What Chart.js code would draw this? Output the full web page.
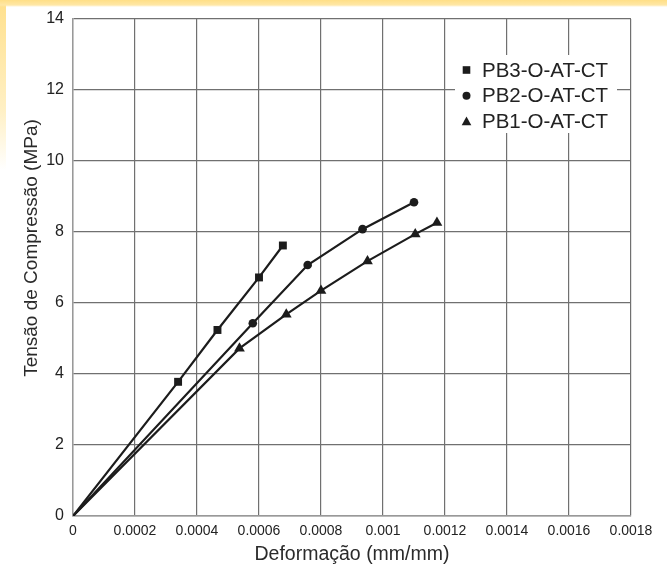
<!DOCTYPE html>
<html>
<head>
<meta charset="utf-8">
<script src="https://cdn.jsdelivr.net/npm/chart.js@4.4.1/dist/chart.umd.min.js"></script>
<style>
    html, body { margin: 0; padding: 0; background: #fff; }
    #wrap {
        position: relative; width: 667px; height: 570px; overflow: hidden;
        background:
            linear-gradient(to bottom, #ffdf86 0px, #ffe7a6 5px, rgba(255,255,255,0) 7px),
            linear-gradient(to bottom, #ffe08c 0px, #fff0c4 110px, #ffffff 170px) left top / 6px 570px no-repeat,
            #fff;
    }
    canvas { position: absolute; left: 0; top: 0; }
</style>
</head>
<body>
<div id="wrap"><canvas id="chart" width="667" height="570"></canvas></div>
<script>
document.addEventListener("DOMContentLoaded", () => {

    // values
    const seriesNames = ["PB3-O-AT-CT", "PB2-O-AT-CT", "PB1-O-AT-CT"];
    const pb3Strain = [0, 0.000339, 0.000466, 0.0006, 0.000677];
    const pb3Stress = [0, 3.78, 5.24, 6.72, 7.62];
    const pb2Strain = [0, 0.00058, 0.000757, 0.000934, 0.0011];
    const pb2Stress = [0, 5.43, 7.07, 8.08, 8.84];
    const pb1Strain = [0, 0.000537, 0.000688, 0.0008, 0.00095, 0.001104, 0.001174];
    const pb1Stress = [0, 4.72, 5.68, 6.35, 7.18, 7.94, 8.26];
    const xTicks = [0, 0.0002, 0.0004, 0.0006, 0.0008, 0.001, 0.0012, 0.0014, 0.0016, 0.0018];
    const yTicks = [0, 2, 4, 6, 8, 10, 12, 14];

    const FONT = "'Liberation Sans', Arial, Helvetica, sans-serif";
    const INK = "#1c1c1c";
    const GRID = "#707070";

    const toPoints = (xs, ys) => xs.map((x, i) => ({ x: x, y: ys[i] }));

    const makeSet = (label, xs, ys, style, r) => ({
        label: label,
        data: toPoints(xs, ys),
        showLine: true,
        tension: 0,
        borderColor: INK,
        borderWidth: 2.2,
        backgroundColor: INK,
        pointStyle: style,
        pointRadius: c => c.dataIndex === 0 ? 0 : r,
        pointBorderWidth: 0,
        pointHoverRadius: r
    });

    // legend sits inside the plot, top right, on a white patch
    const innerLegend = {
        id: "innerLegend",
        beforeDatasetsDraw(chart) {
            const ctx = chart.ctx;
            const area = chart.chartArea;
            const boxLeft = area.right - 176;
            const boxTop = area.top + 36;
            ctx.save();
            ctx.fillStyle = "#fff";
            ctx.fillRect(boxLeft, boxTop, 162, 78);
            ctx.font = "20.5px " + FONT;
            ctx.textBaseline = "middle";
            ctx.textAlign = "left";
            chart.data.datasets.forEach((ds, i) => {
                const cy = boxTop + 15 + i * 25.8;
                const mx = boxLeft + 11.5;
                ctx.fillStyle = INK;
                ctx.beginPath();
                if (ds.pointStyle === "rect") {
                    ctx.rect(mx - 3.8, cy - 3.8, 7.6, 7.6);
                } else if (ds.pointStyle === "circle") {
                    ctx.arc(mx, cy, 4, 0, Math.PI * 2);
                } else {
                    ctx.moveTo(mx, cy - 5);
                    ctx.lineTo(mx + 4.8, cy + 3.6);
                    ctx.lineTo(mx - 4.8, cy + 3.6);
                    ctx.closePath();
                }
                ctx.fill();
                ctx.fillStyle = "#222";
                ctx.fillText(ds.label, boxLeft + 27, cy + 1);
            });
            ctx.restore();
        },
        afterDraw(chart) {
            // y axis title, placed a little above the plot centre as in the source
            const ctx = chart.ctx;
            ctx.save();
            ctx.translate(32, chart.chartArea.top + 229);
            ctx.rotate(-Math.PI / 2);
            ctx.font = "19px " + FONT;
            ctx.fillStyle = "#2a2a2a";
            ctx.textAlign = "center";
            ctx.textBaseline = "middle";
            ctx.fillText("Tensão de Compressão (MPa)", 0, 0);
            ctx.restore();
        }
    };

    const ctx = document.getElementById("chart").getContext("2d");

    new Chart(ctx, {
        type: "scatter",
        data: {
            datasets: [
                makeSet(seriesNames[0], pb3Strain, pb3Stress, "rect", 5.6),
                makeSet(seriesNames[1], pb2Strain, pb2Stress, "circle", 4.3),
                makeSet(seriesNames[2], pb1Strain, pb1Stress, "triangle", 6.2)
            ]
        },
        options: {
            responsive: false,
            animation: false,
            layout: { padding: { top: 19, right: 36, left: 0, bottom: 0 } },
            plugins: {
                legend: { display: false },
                tooltip: { enabled: false }
            },
            scales: {
                x: {
                    type: "linear",
                    min: 0,
                    max: 0.0018,
                    afterFit: s => { s.height = 54; },
                    afterBuildTicks: s => { s.ticks = xTicks.map(v => ({ value: v })); },
                    grid: { color: GRID, lineWidth: 1.2, drawTicks: false },
                    border: { color: "#999", width: 1.4 },
                    ticks: {
                        padding: 7,
                        color: "#222",
                        font: { family: FONT, size: 14 },
                        maxRotation: 0,
                        autoSkip: false,
                        callback: v => String(parseFloat(Number(v).toFixed(4)))
                    },
                    title: {
                        display: true,
                        text: "Deformação (mm/mm)",
                        color: "#2a2a2a",
                        font: { family: FONT, size: 19.5 },
                        padding: { top: 4, bottom: 4 }
                    }
                },
                y: {
                    min: 0,
                    max: 14,
                    afterFit: s => { s.width = 73; },
                    afterBuildTicks: s => { s.ticks = yTicks.map(v => ({ value: v })); },
                    grid: { color: GRID, lineWidth: 1.2, drawTicks: false },
                    border: { color: "#999", width: 1.4 },
                    ticks: {
                        padding: 9,
                        color: "#222",
                        font: { family: FONT, size: 16 }
                    }
                }
            }
        },
        plugins: [innerLegend]
    });

});
</script>
</body>
</html>
